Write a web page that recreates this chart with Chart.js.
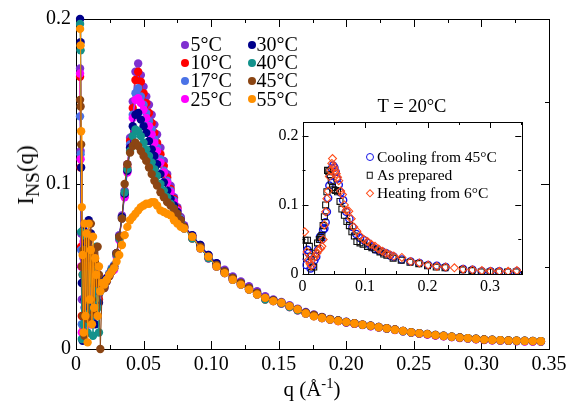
<!DOCTYPE html>
<html>
<head>
<meta charset="utf-8">
<script src="https://cdn.jsdelivr.net/npm/chart.js@4.4.1/dist/chart.umd.min.js"></script>
<style>
  body { margin: 0; background: #fff; }
  #wrap { position: relative; width: 578px; height: 405px; overflow: hidden;
          font-family: "Liberation Serif", "Times New Roman", serif; color: #000; background: #fff; }
  #wrap canvas { position: absolute; }
  .txt { position: absolute; white-space: nowrap; line-height: 22px; }
  .txt sub, .txt sup { line-height: 0; }
  .mk { position: absolute; box-sizing: border-box; }
</style>
</head>
<body>
<div id="wrap">
  <canvas id="main" width="578" height="405" style="left:0;top:0"></canvas>
  <canvas id="inset" width="270" height="205" style="left:270px;top:95px"></canvas>
  <div class="txt" style="left:26px;top:175px;font-size:23px;transform:translate(-50%,-50%) rotate(-90deg)">I<sub style="font-size:85%">NS</sub>(q)</div>
  <div class="txt" style="left:312px;top:389px;font-size:21px;transform:translate(-50%,-50%)">q (Å<sup style="font-size:70%">-1</sup>)</div>
  <div class="txt" style="left:412px;top:106px;font-size:18.5px;transform:translate(-50%,-50%)">T = 20°C</div>
</div>
<script>
// q grid shared by all temperature curves (Å^-1)
const qVals = [
  0.0030, 0.0034, 0.0038, 0.0043, 0.0049, 0.0056, 0.0063, 0.0070, 0.0078, 0.0086,
  0.0094, 0.0102, 0.0110, 0.0118, 0.0126, 0.0134, 0.0142, 0.0150, 0.0160, 0.0170,
  0.0180, 0.0195, 0.0210, 0.0228, 0.0246, 0.0264,
  0.0282, 0.0300, 0.0320, 0.0340, 0.0360, 0.0380, 0.0400, 0.0420, 0.0440, 0.0460,
  0.0480, 0.0500, 0.0520, 0.0540, 0.0560, 0.0580, 0.0600, 0.0625, 0.0650, 0.0675,
  0.0700, 0.0725, 0.0750, 0.0775, 0.0800,
  0.086, 0.092, 0.098, 0.104, 0.110, 0.116, 0.122, 0.128, 0.134, 0.140,
  0.146, 0.152, 0.158, 0.164, 0.170, 0.176, 0.182, 0.188, 0.194, 0.200,
  0.206, 0.212, 0.218, 0.224, 0.230, 0.236, 0.242, 0.248, 0.254, 0.260,
  0.266, 0.272, 0.278, 0.284, 0.290, 0.296, 0.302, 0.308, 0.314, 0.320,
  0.326, 0.332, 0.338, 0.344
];

const tempNames = ['5°C', '10°C', '17°C', '25°C', '30°C', '40°C', '45°C', '55°C'];
const tempColors = ['#7f30d0', '#ff0000', '#4a72e6', '#ff00ff', '#00008b', '#13928c', '#8b4513', '#ff9000'];

const i5 = [
  .170,.120,.070,.030,.010,.055,.025,.068,.040,.020, .060,.035,.050,.015,.045,.055,.030,.045,.040,.033, .038,.040,.037,.041,.044,.047,
  .050,.058,.069,.081,.096,.112,.128,.150,.168,.173, .166,.159,.153,.148,.142,.136,.130,.122,.114,.106, .099,.092,.086,.080,.075,
  .069,.063,.057,.052,.048,.044,.041,.038,.035,.032, .030,.0285,.0265,.0245,.0225,.021,.0195,.0182,.0173,.0165,
  .0157,.0148,.0141,.0133,.0126,.0118,.0110,.0102,.0096,.0090, .0085,.0079,.0074,.0069,.0064,.0060,.0056,.0053,.0051,.0049,
  .0047,.0046,.0045,.0044
];
const i10 = [
  .165,.110,.062,.020,.045,.012,.058,.030,.065,.025, .048,.020,.055,.038,.060,.028,.050,.036,.042,.030, .036,.039,.040,.042,.045,.047,
  .049,.057,.067,.080,.094,.110,.126,.146,.163,.168, .162,.155,.149,.143,.137,.131,.125,.118,.111,.104, .097,.091,.085,.079,.074,
  .067,.061,.055,.050,.046,.042,.039,.036,.033,.030, .029,.0275,.0255,.0235,.0215,.020,.0188,.0178,.017,.0161,
  .0153,.0146,.0139,.0131,.0124,.0116,.0108,.0100,.0094,.0089, .0083,.0078,.0073,.0068,.0064,.0060,.0056,.0054,.0052,.0050,
  .0049,.0048,.0047,.0046
];
const i17 = [
  .141,.118,.060,.015,.050,.020,.062,.033,.010,.058, .030,.066,.024,.052,.036,.060,.020,.045,.038,.035, .040,.038,.041,.042,.046,.049,
  .051,.058,.068,.080,.093,.108,.124,.142,.155,.158, .153,.148,.143,.138,.133,.127,.122,.115,.108,.102, .096,.090,.084,.079,.074,
  .068,.062,.056,.051,.047,.043,.040,.037,.034,.031, .0295,.028,.026,.024,.022,.0205,.019,.018,.0171,.0162,
  .0154,.0146,.0139,.0131,.0124,.0116,.0108,.0100,.0094,.0089, .0083,.0078,.0073,.0068,.0064,.0060,.0056,.0054,.0052,.0050,
  .0049,.0048,.0047,.0046
];
const i25 = [
  .167,.115,.050,.010,.040,.065,.020,.045,.070,.030, .055,.015,.060,.040,.025,.050,.035,.048,.030,.040, .037,.039,.041,.043,.045,.048,
  .048,.056,.066,.079,.092,.107,.122,.140,.151,.152, .149,.145,.140,.135,.130,.125,.120,.113,.107,.101, .095,.089,.084,.078,.073,
  .068,.061,.055,.050,.046,.042,.039,.036,.033,.0305, .029,.0275,.0255,.0235,.0215,.020,.0187,.0177,.0169,.0160,
  .0152,.0145,.0138,.0130,.0123,.0115,.0107,.0099,.0093,.0088, .0082,.0077,.0072,.0067,.0063,.0059,.0055,.0053,.0051,.0049,
  .0048,.0047,.0046,.0045
];
const i30 = [
  .200,.186,.110,.040,.005,.072,.030,.062,.018,.055, .078,.040,.070,.025,.060,.045,.015,.050,.035,.028, .042,.040,.038,.043,.045,.048,
  .050,.058,.068,.080,.094,.108,.122,.135,.142,.143, .139,.135,.131,.126,.121,.117,.112,.106,.101,.096, .091,.087,.083,.078,.074,
  .069,.063,.057,.052,.047,.043,.040,.037,.034,.031, .0295,.028,.026,.024,.022,.0205,.0192,.0181,.0173,.0164,
  .0156,.0148,.0141,.0133,.0126,.0118,.0110,.0102,.0096,.0091, .0085,.0080,.0075,.0070,.0066,.0062,.0058,.0056,.0054,.0052,
  .0051,.0050,.0049,.0048
];
const i40 = [
  .197,.181,.071,.006,.045,.015,.060,.030,.068,.010, .050,.022,.058,.042,.008,.055,.030,.062,.025,.010, .035,.040,.039,.042,.045,.048,
  .049,.057,.067,.079,.095,.109,.120,.129,.133,.132, .129,.125,.121,.117,.113,.109,.105,.100,.096,.092, .088,.085,.081,.077,.073,
  .067,.061,.055,.050,.046,.042,.039,.036,.033,.030, .029,.0275,.0255,.0235,.0215,.020,.0188,.0178,.0171,.0162,
  .0154,.0146,.0139,.0131,.0124,.0116,.0108,.0100,.0095,.0090, .0084,.0079,.0074,.0069,.0065,.0061,.0057,.0055,.0053,.0051,
  .0050,.0049,.0048,.0047
];
const i45 = [
  .151,.147,.124,.050,.020,.060,.008,.055,.030,.065, .018,.050,.076,.030,.058,.022,.052,.040,.062,.045, .000,.040,.037,.041,.044,.047,
  .050,.058,.068,.079,.100,.112,.119,.123,.125,.123, .120,.117,.114,.110,.106,.102,.099,.095,.092,.089, .087,.085,.082,.078,.074,
  .068,.062,.056,.051,.047,.043,.040,.037,.034,.031, .0295,.028,.026,.024,.022,.0206,.0192,.0181,.0173,.0164,
  .0156,.0148,.0141,.0133,.0126,.0118,.0110,.0102,.0096,.0091, .0085,.0080,.0075,.0070,.0066,.0062,.0058,.0056,.0054,.0052,
  .0051,.0050,.0049,.0048
];
const i55 = [
  .194,.184,.132,.086,.057,.010,.076,.020,.070,.004, .076,.030,.060,.015,.068,.025,.055,.045,.020,.050, .035,.040,.039,.042,.045,.047,
  .049,.053,.057,.063,.069,.074,.078,.080,.082,.084, .086,.087,.088,.088,.089,.089,.087,.084,.083,.082, .081,.078,.076,.074,.073,
  .068,.061,.056,.050,.046,.042,.039,.036,.033,.031, .029,.028,.026,.024,.0215,.0198,.0188,.0178,.0170,.0163,
  .0155,.0147,.0140,.0132,.0125,.0117,.0109,.0101,.0095,.0090, .0084,.0079,.0074,.0069,.0065,.0061,.0057,.0055,.0053,.0051,
  .0050,.0049,.0048,.0047
];
const tempSeries = [i5, i10, i17, i25, i30, i40, i45, i55];

// inset, T = 20°C
const coolQ = [.004,.006,.008,.010,.013,.016,.019,.022,.025,.028, .030,.033,.035,.037,.039,.041,.043,.045,.047,.049,
  .051,.053,.055,.058,.061,.065,.070,.075,.080,.086, .092,.098,.104,.110,.116,.122,.128,.134,.140,.146,
  .159,.173,.187,.201,.215,.229,.257,.272,.287,.301, .315,.329,.343];
const coolI = [.025,.013,.035,.030,.008,.012,.020,.025,.035,.054, .050,.064,.066,.075,.090,.110,.128,.142,.153,.157,
  .154,.148,.138,.129,.118,.107,.090,.080,.068,.058, .052,.049,.045,.040,.036,.034,.032,.030,.027,.025,
  .021,.018,.016,.013,.012,.010,.007,.006,.004,.004, .004,.003,.004];
const prepQ = [.004,.008,.011,.014,.0145,.018,.021,.024,.027,.029, .031,.033,.035,.037,.039,.040,.042,.044,.046,.048,
  .050,.053,.056,.060,.063,.067,.071,.075,.079,.083, .087,.092,.097,.104,.111,.117,.124,.130,.135,.145,
  .158,.172,.186,.200,.214,.228,.256,.271,.286,.300, .314,.328,.342];
const prepI = [.049,.049,.040,.025,.002,.010,.030,.045,.050,.053, .056,.070,.083,.100,.119,.150,.148,.144,.135,.125,
  .122,.121,.119,.105,.094,.085,.076,.070,.061,.055, .047,.045,.043,.040,.038,.035,.032,.029,.027,.023,
  .020,.017,.015,.012,.010,.009,.006,.005,.003,.003, .003,.003,.003];
const heatQ = [.0035,.007,.009,.012,.014,.017,.020,.023,.026,.029, .031,.033,.035,.037,.039,.041,.043,.045,.047,.048,
  .050,.052,.054,.056,.058,.061,.064,.067,.070,.074, .078,.082,.087,.092,.098,.104,.110,.116,.122,.128,
  .134,.140,.146,.159,.173,.187,.201,.215,.229,.243, .257,.272,.287,.301,.315,.329,.343];
const heatI = [.061,.032,.020,.015,.012,.022,.025,.030,.035,.037, .040,.050,.071,.090,.109,.120,.141,.150,.160,.167,
  .155,.150,.145,.140,.135,.120,.115,.100,.092,.091, .080,.068,.062,.055,.050,.047,.043,.040,.036,.033,
  .030,.028,.026,.024,.018,.016,.013,.011,.010,.009, .007,.006,.005,.004,.004,.004,.005];
const insetNames = ['Cooling from 45°C', 'As prepared', 'Heating from 6°C'];

Chart.defaults.font.family = '"Liberation Serif", "Times New Roman", serif';
Chart.defaults.color = '#000';

const pairs = (xs, ys) => ys.map((v, j) => ({x: xs[j], y: v}));

// box round the plot and inward ticks on all four sides
const frameTicks = {
  id: 'frameTicks',
  beforeDatasetsDraw(chart, args, opts) {
    const {ctx, chartArea: a, scales} = chart;
    ctx.save();
    ctx.strokeStyle = '#000';
    ctx.lineWidth = 1;
    ctx.beginPath();
    scales.x.ticks.forEach(t => {
      const px = Math.round(scales.x.getPixelForValue(t.value)) + 0.5;
      const len = t.label ? opts.major : opts.minor;
      ctx.moveTo(px, a.bottom); ctx.lineTo(px, a.bottom - len);
      ctx.moveTo(px, a.top); ctx.lineTo(px, a.top + len);
    });
    scales.y.ticks.forEach(t => {
      const py = Math.round(scales.y.getPixelForValue(t.value)) + 0.5;
      const len = t.label ? opts.major : opts.minor;
      ctx.moveTo(a.left, py); ctx.lineTo(a.left + len, py);
      ctx.moveTo(a.right, py); ctx.lineTo(a.right - len, py);
    });
    ctx.stroke();
    ctx.strokeRect(Math.round(a.left) + 0.5, Math.round(a.top) + 0.5,
      Math.round(a.right - a.left), Math.round(a.bottom - a.top));
    ctx.restore();
  }
};

function lab(v, every, digits) {
  const m = Math.round(v * 1000);
  if (m % every !== 0) return '';
  return m === 0 ? '0' : v.toFixed(digits);
}

new Chart(document.getElementById('main'), {
  type: 'line',
  data: {
    datasets: tempSeries.map((vals, k) => ({
      label: tempNames[k],
      data: pairs(qVals, vals),
      borderColor: tempColors[k],
      backgroundColor: tempColors[k],
      borderWidth: 1,
      pointRadius: 4.2,
      pointBorderWidth: 0,
      pointHoverRadius: 4.2,
      order: 7 - k,
      clip: false
    }))
  },
  options: {
    responsive: false,
    animation: false,
    events: [],
    layout: { padding: {left: 0, right: 29, top: 19, bottom: 0}, autoPadding: false },
    plugins: { legend: {display: false}, tooltip: {enabled: false}, frameTicks: {major: 8, minor: 4} },
    scales: {
      x: {
        type: 'linear', min: 0, max: 0.35,
        afterFit: s => { s.height = 56; },
        grid: {display: false, drawTicks: false}, border: {display: false},
        ticks: {stepSize: 0.025, autoSkip: false, maxRotation: 0, padding: 4, font: {size: 20},
          callback: v => lab(v, 50, 2)}
      },
      y: {
        type: 'linear', min: 0, max: 0.2,
        afterFit: s => { s.width = 76; },
        grid: {display: false, drawTicks: false}, border: {display: false},
        ticks: {stepSize: 0.05, autoSkip: false, padding: 5, font: {size: 20},
          callback: v => lab(v, 100, 1)}
      }
    }
  },
  plugins: [frameTicks]
});

new Chart(document.getElementById('inset'), {
  type: 'scatter',
  data: {
    datasets: [
      {label: insetNames[0], data: pairs(coolQ, coolI), pointStyle: 'circle', pointRadius: 3.6,
       borderColor: '#1414e6', backgroundColor: 'rgba(0,0,0,0)', pointBorderWidth: 1.4, order: 2},
      {label: insetNames[1], data: pairs(prepQ, prepI), pointStyle: 'rect', pointRadius: 4.2,
       borderColor: '#111', backgroundColor: 'rgba(0,0,0,0)', pointBorderWidth: 1.1, order: 1},
      {label: insetNames[2], data: pairs(heatQ, heatI), pointStyle: 'rectRot', pointRadius: 4,
       borderColor: '#ff4d1a', backgroundColor: 'rgba(0,0,0,0)', pointBorderWidth: 1.1, order: 0}
    ]
  },
  options: {
    responsive: false,
    animation: false,
    events: [],
    layout: { padding: {left: 0, right: 18.75, top: 27, bottom: 0}, autoPadding: false },
    plugins: { legend: {display: false}, tooltip: {enabled: false}, frameTicks: {major: 6, minor: 3} },
    scales: {
      x: {
        type: 'linear', min: 0, max: 0.35,
        afterFit: s => { s.height = 26; },
        grid: {display: false, drawTicks: false}, border: {display: false},
        ticks: {stepSize: 0.05, autoSkip: false, maxRotation: 0, padding: 3, font: {size: 16},
          callback: v => lab(v, 100, 1)}
      },
      y: {
        type: 'linear', min: 0, max: 0.22,
        afterFit: s => { s.width = 32.5; },
        grid: {display: false, drawTicks: false}, border: {display: false},
        ticks: {stepSize: 0.05, includeBounds: false, autoSkip: false, padding: 4, font: {size: 16},
          callback: v => lab(v, 100, 1)}
      }
    }
  },
  plugins: [frameTicks]
});

// legends as html text
const wrap = document.getElementById('wrap');
tempNames.forEach((name, k) => {
  const col = Math.floor(k / 4), row = k % 4;
  const cy = 44.5 + row * 18.2;
  const dotX = col ? 252 : 185;
  const textX = col ? 256.5 : 190.5;
  const dot = document.createElement('div');
  dot.className = 'mk';
  dot.style.cssText = `left:${dotX - 4}px;top:${cy - 4}px;width:8px;height:8px;border-radius:50%;background:${tempColors[k]}`;
  const t = document.createElement('div');
  t.className = 'txt';
  t.style.cssText = `left:${textX}px;top:${cy - 11.5}px;font-size:20px`;
  t.textContent = name;
  wrap.append(dot, t);
});

const insetMarks = [
  'width:8px;height:8px;border:1.4px solid #1414e6;border-radius:50%',
  'width:6.5px;height:6.5px;border:1.1px solid #111',
  'width:5.5px;height:5.5px;border:1.1px solid #ff4d1a;transform:rotate(45deg)'
];
insetNames.forEach((name, k) => {
  const cy = 156.7 + k * 18.3;
  const m = document.createElement('div');
  m.className = 'mk';
  m.style.cssText = insetMarks[k] + `;left:${369.5}px;top:${cy}px;translate:-50% -50%`;
  const t = document.createElement('div');
  t.className = 'txt';
  t.style.cssText = `left:377px;top:${cy - 11}px;font-size:15.5px`;
  t.textContent = name;
  wrap.append(m, t);
});
</script>
</body>
</html>
